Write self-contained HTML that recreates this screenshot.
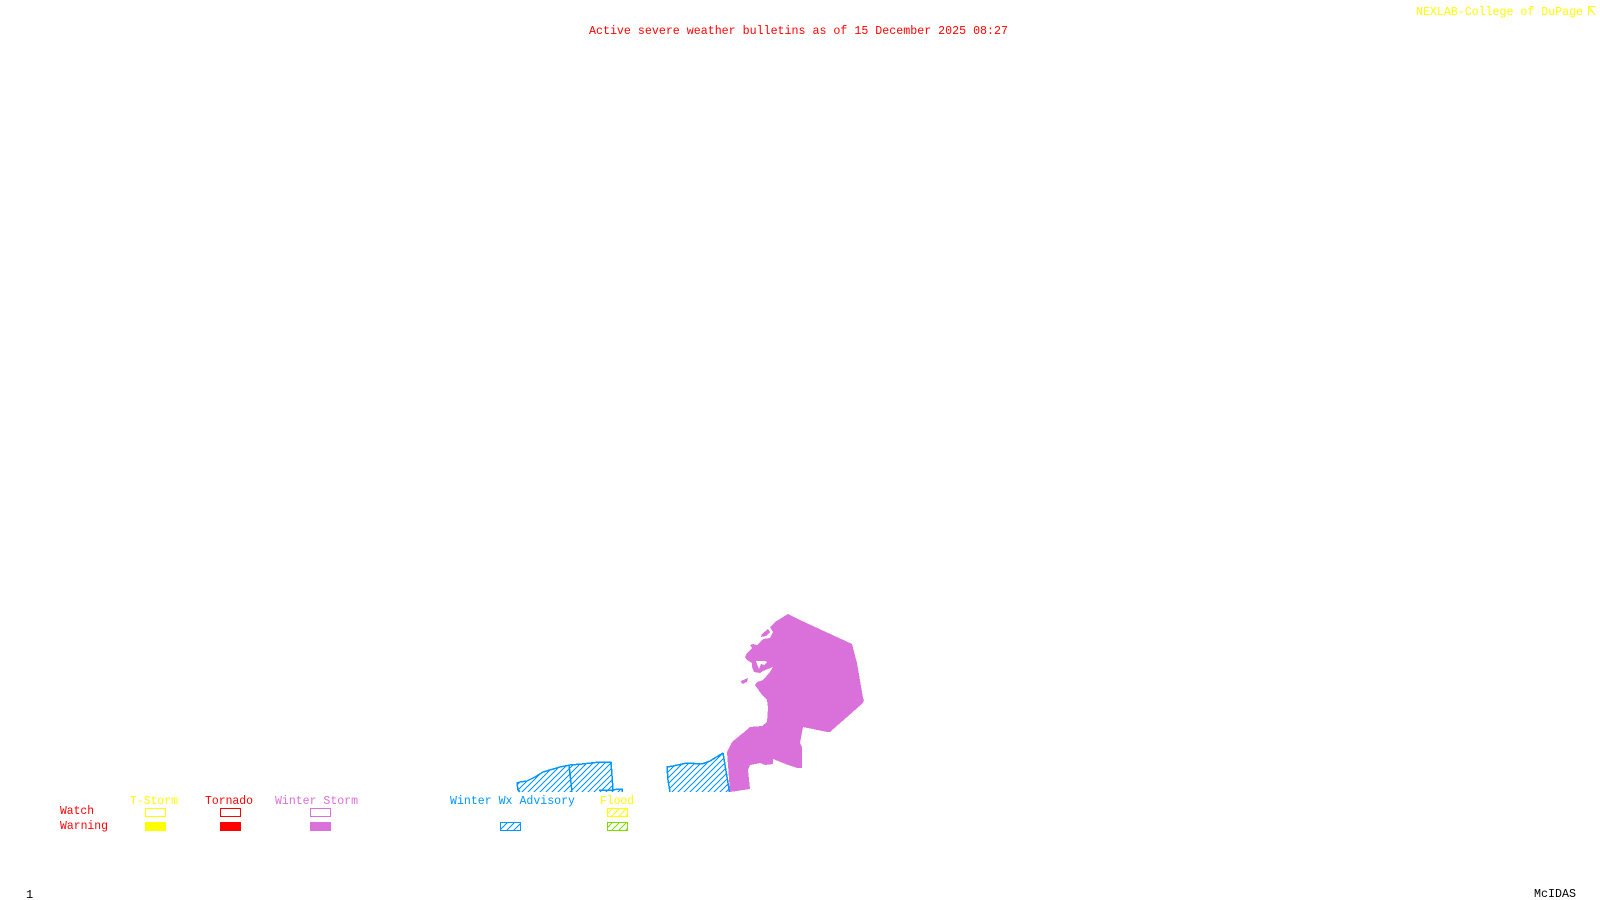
<!DOCTYPE html>
<html lang="en">
<head>
<meta charset="utf-8">
<title>Active severe weather bulletins</title>
<style>
html,body{margin:0;padding:0;background:#fff;width:1600px;height:900px;overflow:hidden}
svg{display:block}
text{font-family:"Liberation Mono",monospace;font-size:12px;font-weight:normal}
</style>
</head>
<body>
<svg width="1600" height="900" viewBox="0 0 1600 900" xmlns="http://www.w3.org/2000/svg">
<defs>
<pattern id="hb" width="6" height="6" patternUnits="userSpaceOnUse">
<path d="M0 6L6 0M-1 1L1 -1M5 7L7 5" stroke="#0096ff" stroke-width="1.2" shape-rendering="crispEdges"/>
</pattern>
<pattern id="hy" width="7" height="7" patternUnits="userSpaceOnUse">
<path d="M0 7L7 0M-1 1L1 -1M6 8L8 6" stroke="#ffff00" stroke-width="1.2" shape-rendering="crispEdges"/>
</pattern>
<pattern id="hg" width="7" height="7" patternUnits="userSpaceOnUse">
<path d="M0 7L7 0M-1 1L1 -1M6 8L8 6" stroke="#7fdc00" stroke-width="1.2" shape-rendering="crispEdges"/>
</pattern>
<pattern id="hl" width="7" height="7" patternUnits="userSpaceOnUse">
<path d="M0 7L7 0M-1 1L1 -1M6 8L8 6" stroke="#0096ff" stroke-width="1.2" shape-rendering="crispEdges"/>
</pattern>
</defs>

<!-- advisory areas -->
<polygon points="517,783 520,782 527,781 535,777 543,772 560,767 570,765 582,764 600,762 611,762 613,790 622,790 622,792 520,792 518,790" fill="url(#hb)"/>
<g shape-rendering="crispEdges" fill="none" stroke="#0096ff" stroke-width="1.5">
<polyline points="520,792 518,790 517,783 520,782 527,781 535,777 543,772 560,767 570,765 582,764 600,762 611,762 613,790 599,790"/>
<polyline points="613,790 618,789 622,789 622,792"/>
<polyline points="569,765 572,792"/>
</g>
<polygon points="667,767 673,766 687,763 702,764 710,761 723,753 730,792 670,792 668,780" fill="url(#hb)"/>
<polyline points="670,792 668,780 667,767 673,766 687,763 702,764 710,761 723,753" fill="none" stroke="#0096ff" stroke-width="1.5" shape-rendering="crispEdges"/>

<!-- winter storm warning -->
<g shape-rendering="crispEdges" fill="#da70da">
<path fill-rule="evenodd" d="M788,614 L800,620 L852,644 L857,663 L863,698 L864,700 L863,703 L830,732 L827,732 L803,727 L800,743 L802,747 L802,768 L797,768 L788,765 L773,759 L773,764 L765,765 L760,763 L750,765 L748,770 L750,789 L730,792 L727,752 L732,742 L743,733 L750,727 L762,726 L767,722 L768,708 L767,700 L764,697 L762,695 L755,685 L757,682 L763,680 L770,672 L773,667 L763,671 L760,673 L754,672 L752,667 L752,663 L747,660 L745,657 L747,653 L752,648 L750,645 L753,644 L757,645 L763,639 L770,638 L773,632 L770,627 L775,622 L783,617 Z
M756,661 L765,661 L767,662 L764,665 L761,664 L759,669 L757,664 Z"/>
<polygon points="768,629 762,634 761,637 766,636 770,632"/>
<polygon points="741,681 748,678 747,682 742,684"/>
</g>
<polyline points="723,753 729.5,792" fill="none" stroke="#0096ff" stroke-width="1.5" shape-rendering="crispEdges"/>

<!-- headers -->
<text x="589" y="34" fill="#ff0000" textLength="419" lengthAdjust="spacingAndGlyphs">Active severe weather bulletins as of 15 December 2025 08:27</text>
<text x="1416" y="15" fill="#ffff00" textLength="167" lengthAdjust="spacingAndGlyphs">NEXLAB-College of DuPage</text>
<path d="M1595.5,6.5H1588.5V15.5M1589,7L1595,15M1589,11L1593,11" fill="none" stroke="#ffff00" stroke-width="1" shape-rendering="crispEdges"/>

<!-- legend -->
<text x="130" y="804" fill="#ffff00" textLength="48" lengthAdjust="spacingAndGlyphs">T-Storm</text>
<text x="205" y="804" fill="#ff0000" textLength="48" lengthAdjust="spacingAndGlyphs">Tornado</text>
<text x="275" y="804" fill="#da70da" textLength="83" lengthAdjust="spacingAndGlyphs">Winter Storm</text>
<text x="450" y="804" fill="#0096ff" textLength="125" lengthAdjust="spacingAndGlyphs">Winter Wx Advisory</text>
<text x="600" y="804" fill="#ffff00" textLength="34" lengthAdjust="spacingAndGlyphs">Flood</text>
<text x="60" y="814" fill="#ff0000" textLength="34" lengthAdjust="spacingAndGlyphs">Watch</text>
<text x="60" y="829" fill="#ff0000" textLength="48" lengthAdjust="spacingAndGlyphs">Warning</text>

<g shape-rendering="crispEdges">
<rect x="145.5" y="808.5" width="20" height="8" fill="none" stroke="#ffff00"/>
<rect x="220.5" y="808.5" width="20" height="8" fill="none" stroke="#ff0000"/>
<rect x="310.5" y="808.5" width="20" height="8" fill="none" stroke="#da70da"/>
<rect x="145" y="822" width="21" height="9" fill="#ffff00"/>
<rect x="220" y="822" width="21" height="9" fill="#ff0000"/>
<rect x="310" y="822" width="21" height="9" fill="#da70da"/>
<rect x="500.5" y="822.5" width="20" height="8" fill="url(#hl)" stroke="#0096ff"/>
<rect x="607.5" y="808.5" width="20" height="8" fill="url(#hy)" stroke="#ffff00"/>
<rect x="607.5" y="822.5" width="20" height="8" fill="url(#hg)" stroke="#7fdc00"/>
</g>

<!-- footer -->
<text x="26" y="898" fill="#000000">1</text>
<text x="1534" y="897" fill="#000000" textLength="42" lengthAdjust="spacingAndGlyphs">McIDAS</text>
</svg>
</body>
</html>
